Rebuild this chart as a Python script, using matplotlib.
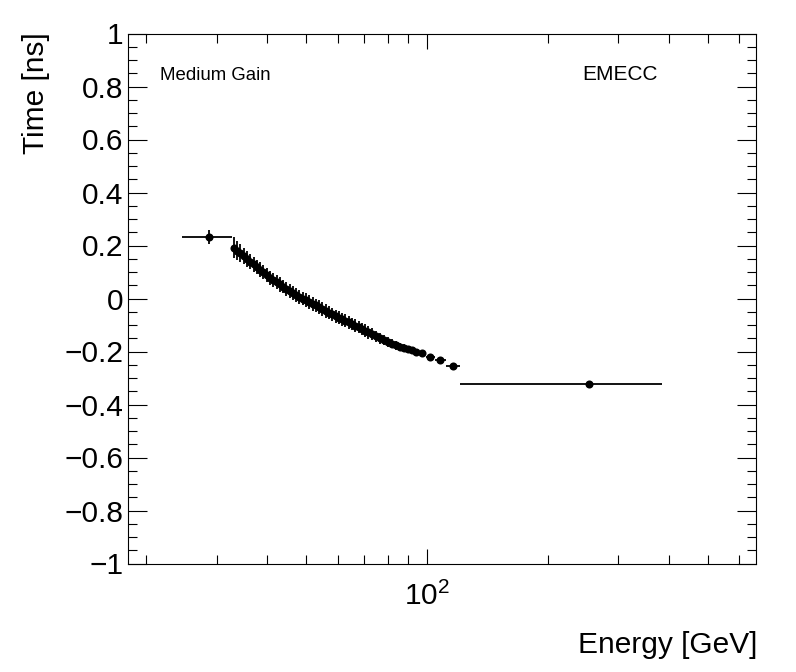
import matplotlib
matplotlib.use("Agg")
import numpy as np
from matplotlib import pyplot as plt
from matplotlib.ticker import MultipleLocator, NullFormatter

# bin edges in GeV (first and last bins are wide)
bin_edges = [24.6,
             32.80, 33.42, 34.06, 34.71, 35.37, 36.04, 36.72, 37.42, 38.13, 38.85,
             39.59, 40.34, 41.11, 41.89, 42.68, 43.49, 44.32, 45.16, 46.02, 46.89,
             47.78, 48.69, 49.61, 50.55, 51.51, 52.49, 53.49, 54.50, 55.54, 56.59,
             57.66, 58.76, 59.87, 61.01, 62.17, 63.35, 64.55, 65.77, 67.02, 68.29,
             69.59, 70.91, 72.25,
             73.91, 75.61, 77.35, 79.13, 80.96, 82.82, 84.73, 86.68, 88.68, 90.72,
             92.81, 94.95,
             99.4, 104.7, 111.4, 120.8,
             385.0]

# mean time per bin [ns]
time_ns = [0.232,
           0.191, 0.181, 0.171, 0.161, 0.150, 0.139, 0.129, 0.119, 0.109, 0.099,
           0.088, 0.077, 0.069, 0.061, 0.053, 0.045, 0.037, 0.029, 0.020, 0.013,
           0.007, 0.000, -0.006, -0.013, -0.020, -0.026, -0.033, -0.040, -0.046, -0.053,
           -0.060, -0.067, -0.073, -0.078, -0.084, -0.090, -0.096, -0.102, -0.108, -0.115,
           -0.121, -0.128,
           -0.135, -0.143, -0.150, -0.158, -0.165, -0.171, -0.177, -0.183, -0.187, -0.192,
           -0.196, -0.201,
           -0.207, -0.219, -0.231, -0.253,
           -0.323]

time_err = [0.027,
            0.040, 0.036, 0.033, 0.031, 0.030, 0.028, 0.028, 0.028, 0.027, 0.027,
            0.027, 0.027, 0.027, 0.027, 0.027, 0.026, 0.026, 0.026, 0.026, 0.026,
            0.026, 0.026, 0.026, 0.026, 0.026, 0.026, 0.026, 0.026, 0.026, 0.026,
            0.025, 0.025, 0.025, 0.024, 0.024, 0.024, 0.024, 0.024, 0.023, 0.023,
            0.023, 0.023,
            0.022, 0.021, 0.020, 0.019, 0.018, 0.017, 0.016, 0.015, 0.014, 0.013,
            0.012, 0.011,
            0.009, 0.008, 0.007, 0.006,
            0.005]

y_ticks = [-1, -0.8, -0.6, -0.4, -0.2, 0, 0.2, 0.4, 0.6, 0.8, 1]
y_labels = ["\u22121", "\u22120.8", "\u22120.6", "\u22120.4", "\u22120.2", "0",
            "0.2", "0.4", "0.6", "0.8", "1"]
x_minor = [20, 30, 40, 50, 60, 70, 80, 90, 200, 300, 400, 500, 600]

plt.rcParams['font.family'] = ['Liberation Sans', 'DejaVu Sans']
plt.rcParams['mathtext.fontset'] = 'custom'
plt.rcParams['mathtext.rm'] = 'Liberation Sans'
plt.rcParams['mathtext.it'] = 'Liberation Sans:italic'
plt.rcParams['mathtext.bf'] = 'Liberation Sans:bold'

edges = np.array(bin_edges)
centers = 0.5 * (edges[:-1] + edges[1:])
half_w = 0.5 * (edges[1:] - edges[:-1])

W, H = 796, 672
fig = plt.figure(figsize=(W / 100, H / 100), dpi=100)
ax = fig.add_axes([127.5 / W, 1 - 563.5 / H, (756 - 127.5) / W, (563.5 - 33.5) / H])

ax.errorbar(centers, time_ns, xerr=half_w, yerr=time_err, fmt='o', color='black',
            markersize=5.8, elinewidth=1.3, capsize=0, markeredgewidth=0)

ax.set_xscale('log')
ax.set_xlim(18, 660)
ax.set_ylim(-1, 1)

ax.set_xticks([100])
ax.set_xticklabels(['$10^{2}$'])
ax.set_xticks(x_minor, minor=True)
ax.xaxis.set_minor_formatter(NullFormatter())
ax.set_yticks(y_ticks)
ax.set_yticklabels(y_labels)
ax.yaxis.set_minor_locator(MultipleLocator(0.05))

for s in ax.spines.values():
    s.set_linewidth(0.8)
ax.tick_params(which='both', direction='in', top=True, right=True, width=0.8)
ax.tick_params(axis='y', which='major', length=13.7, labelsize=21.5, pad=3)
ax.tick_params(axis='y', which='minor', length=6.5)
ax.tick_params(axis='x', which='major', length=10.8, labelsize=21.5, pad=13)
ax.tick_params(axis='x', which='minor', length=6.3)

fig.text(757 / W, 1 - 631 / H, 'Energy [GeV]', ha='right', va='top', fontsize=21.5)
fig.text(22 / W, 1 - 32 / H, 'Time [ns]', rotation=90, ha='left', va='top', fontsize=21.5)
fig.text(160 / W, 1 - 80 / H, 'Medium Gain', ha='left', va='baseline', fontsize=13.4)
fig.text(582 / W, 1 - 80 / H, 'EMECC', ha='left', va='baseline', fontsize=15)

fig.savefig('out.png', dpi=100)
